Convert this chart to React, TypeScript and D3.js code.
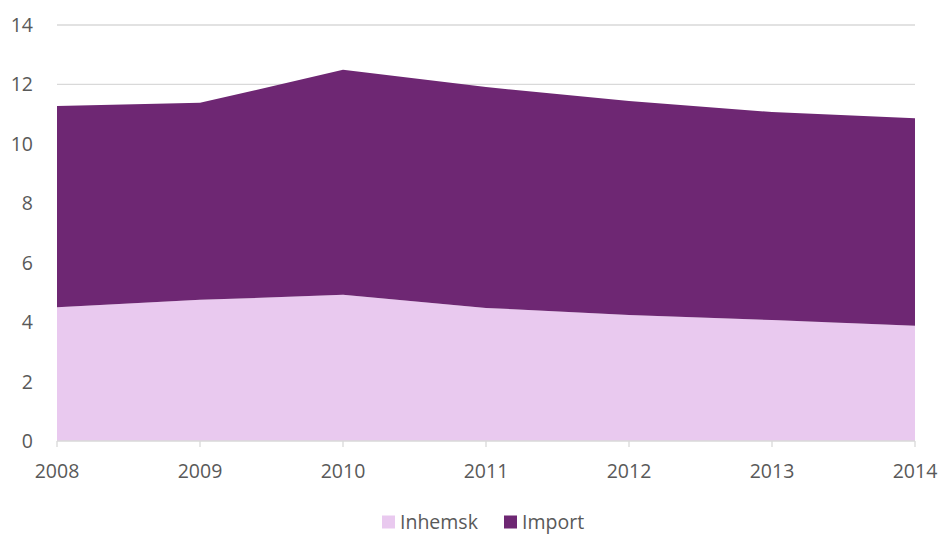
import React from "react";
import * as d3 from "d3";

const years = ["2008", "2009", "2010", "2011", "2012", "2013", "2014"];
const inhemsk = [4.5, 4.75, 4.92, 4.48, 4.24, 4.07, 3.88];
const importVals = [6.77, 6.63, 7.57, 7.43, 7.2, 7.0, 6.98];
const yTicks = [0, 2, 4, 6, 8, 10, 12, 14];
const seriesNames = ["Inhemsk", "Import"];
const colors = ["#E9C9EF", "#6E2773"];

export default function App() {
  const W = 940, H = 534;
  const left = 57, right = 915, top = 25, bottom = 441;
  const x = d3.scalePoint<string>().domain(years).range([left, right]);
  const y = d3.scaleLinear().domain([0, 14]).range([bottom, top]);
  const rows = years.map((yr, i) => ({ year: yr, Inhemsk: inhemsk[i], Import: importVals[i] }));
  const stack = d3.stack<any>().keys(seriesNames)(rows);
  const area = d3
    .area<any>()
    .x((d) => x(d.data.year) as number)
    .y0((d) => y(d[0]))
    .y1((d) => y(d[1]));
  const font = "'Open Sans', sans-serif";
  return (
    <svg width={W} height={H} style={{ position: "absolute", left: 0, top: 0 }}>
      <rect width={W} height={H} fill="#fff" />
      {yTicks.map((t) => (
        <g key={t}>
          {t > 0 && <line x1={left} x2={right} y1={y(t)} y2={y(t)} stroke="#D9D9D9" strokeWidth={1.3} />}
          <text x={33} y={y(t) + 7} textAnchor="end" fontSize={19.5} fill="#595959" fontFamily={font}>
            {t}
          </text>
        </g>
      ))}
      {stack.map((s, i) => (
        <path key={s.key} d={area(s) as string} fill={colors[i]} />
      ))}
      <line x1={left} x2={right} y1={bottom} y2={bottom} stroke="#D9D9D9" strokeWidth={1.3} />
      {years.map((yr) => (
        <g key={yr}>
          <line x1={x(yr)} x2={x(yr)} y1={bottom} y2={bottom + 6} stroke="#D9D9D9" strokeWidth={1.3} />
          <text x={x(yr)} y={478} textAnchor="middle" fontSize={19.5} fill="#595959" fontFamily={font}>
            {yr}
          </text>
        </g>
      ))}
      <g>
        <rect x={382} y={515.5} width={13} height={13} fill={colors[0]} />
        <text x={400} y={528.5} fontSize={19.5} fill="#595959" fontFamily={font}>
          {seriesNames[0]}
        </text>
        <rect x={504} y={515.5} width={13} height={13} fill={colors[1]} />
        <text x={522} y={528.5} fontSize={19.5} fill="#595959" fontFamily={font}>
          {seriesNames[1]}
        </text>
      </g>
    </svg>
  );
}
